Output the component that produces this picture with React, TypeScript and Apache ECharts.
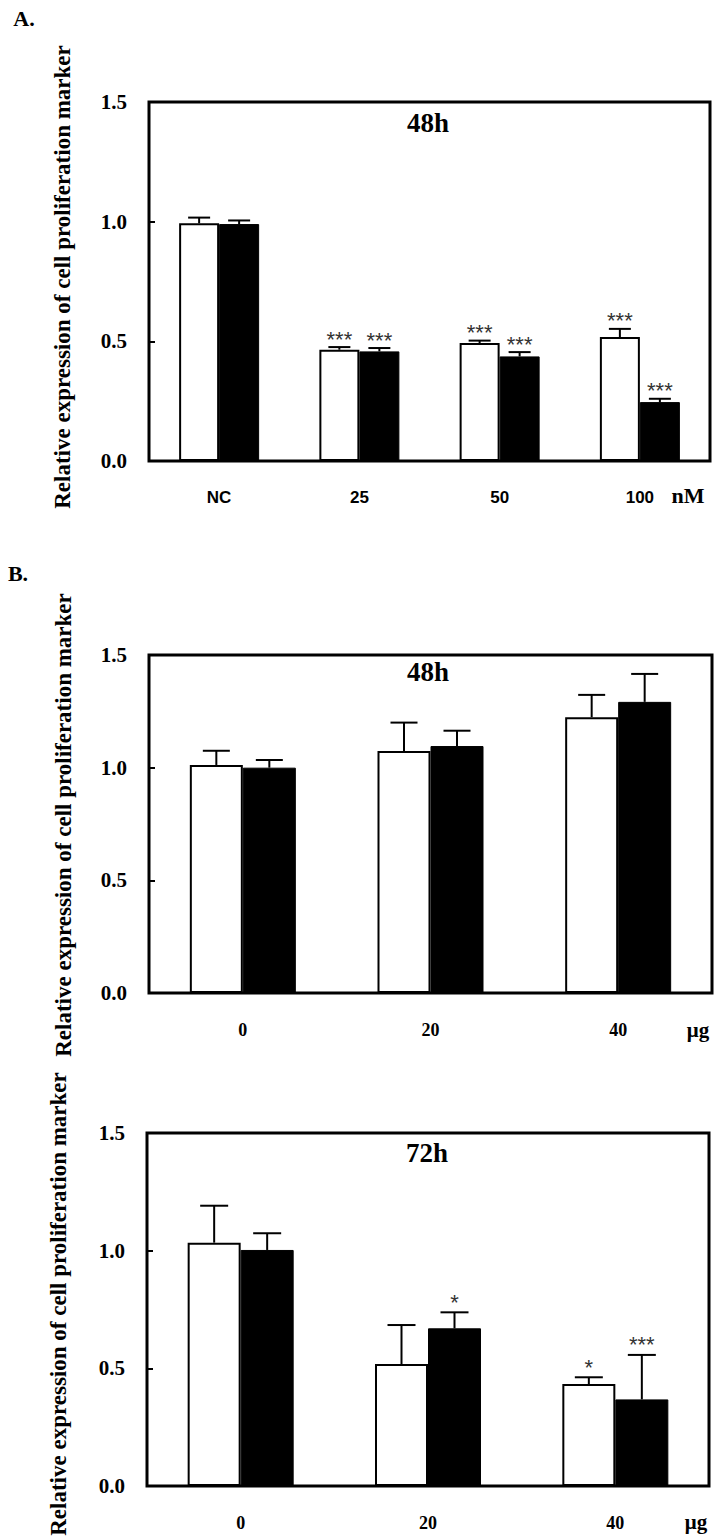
import React, { useEffect, useRef } from "react";
import * as echarts from "echarts";

// Panel A (48h, nM)
const catsA = ["NC", "25", "50", "100"];
const aWhite = [0.993, 0.465, 0.493, 0.518];
const aWhiteErr = [0.024, 0.011, 0.01, 0.034];
const aBlack = [0.99, 0.458, 0.437, 0.246];
const aBlackErr = [0.015, 0.014, 0.018, 0.014];
const aWhiteStars = ["", "***", "***", "***"];
const aBlackStars = ["", "***", "***", "***"];

// Panel B (µg)
const catsB = ["0", "20", "40"];
const b48White = [1.012, 1.074, 1.224];
const b48WhiteErr = [0.063, 0.126, 0.099];
const b48Black = [1.0, 1.096, 1.292];
const b48BlackErr = [0.034, 0.068, 0.124];
const b48WhiteStars = ["", "", ""];
const b48BlackStars = ["", "", ""];
const b72White = [1.034, 0.518, 0.433];
const b72WhiteErr = [0.157, 0.166, 0.029];
const b72Black = [1.003, 0.67, 0.368];
const b72BlackErr = [0.071, 0.068, 0.189];
const b72WhiteStars = ["", "", "*"];
const b72BlackStars = ["", "*", "***"];

const yMin = 0;
const yMax = 1.5;
const yStep = 0.5;
const yTitle = "Relative expression of cell proliferation marker";

const SERIF = "'Liberation Serif', 'Times New Roman', serif";
const NARROW = "'Liberation Sans Narrow', 'Arial Narrow', 'Liberation Sans', sans-serif";
const SANS = "'Liberation Sans', Arial, sans-serif";

function errRender(sign: number, bw: number, capW: number, stars: string[], starGap: number) {
  return (params: any, api: any) => {
    const cat = api.value(0);
    const v = api.value(1);
    const top = api.value(2);
    const b = api.coord([cat, v]);
    const t = api.coord([cat, top]);
    const x = b[0] + (sign * bw) / 2;
    const children: any[] = [
      { type: "line", shape: { x1: x, y1: b[1], x2: x, y2: t[1] }, style: { stroke: "#000", lineWidth: 2 } },
      { type: "line", shape: { x1: x - capW / 2, y1: t[1], x2: x + capW / 2, y2: t[1] }, style: { stroke: "#000", lineWidth: 2 } },
    ];
    const s = stars[params.dataIndex];
    if (s) {
      children.push({
        type: "text",
        style: {
          text: s,
          x: x,
          y: t[1] - starGap,
          textAlign: "center",
          textVerticalAlign: "middle",
          fontSize: 22,
          fontFamily: SANS,
          fill: "#333",
        },
      });
    }
    return { type: "group", children };
  };
}

function panelSeries(
  g: number,
  white: number[],
  whiteErr: number[],
  black: number[],
  blackErr: number[],
  whiteStars: string[],
  blackStars: string[],
  bw: number,
  capW: number,
  starGap: number
) {
  return [
    {
      type: "bar",
      xAxisIndex: g,
      yAxisIndex: g,
      data: white,
      barWidth: bw,
      barGap: "0%",
      itemStyle: { color: "#fff", borderColor: "#000", borderWidth: 2 },
    },
    {
      type: "bar",
      xAxisIndex: g,
      yAxisIndex: g,
      data: black,
      barWidth: bw,
      barGap: "0%",
      itemStyle: { color: "#000", borderColor: "#000", borderWidth: 1 },
    },
    {
      type: "custom",
      xAxisIndex: g,
      yAxisIndex: g,
      data: white.map((v, i) => [i, v, v + whiteErr[i]]),
      encode: { x: 0, y: [1, 2] },
      renderItem: errRender(-1, bw, capW, whiteStars, starGap),
      z: 5,
    },
    {
      type: "custom",
      xAxisIndex: g,
      yAxisIndex: g,
      data: black.map((v, i) => [i, v, v + blackErr[i]]),
      encode: { x: 0, y: [1, 2] },
      renderItem: errRender(1, bw, capW, blackStars, starGap),
      z: 5,
    },
  ];
}

function yAxisFor(g: number) {
  return {
    type: "value",
    gridIndex: g,
    min: yMin,
    max: yMax,
    interval: yStep,
    splitLine: { show: false },
    axisLine: { show: false },
    axisTick: { show: true, inside: true, length: 6, lineStyle: { color: "#000", width: 2 } },
    axisLabel: {
      margin: 22,
      color: "#000",
      fontFamily: SERIF,
      fontWeight: "bold",
      fontSize: 21,
      formatter: (v: number) => v.toFixed(1),
    },
  };
}

function xAxisFor(g: number, cats: string[], family: string, size: number) {
  return {
    type: "category",
    gridIndex: g,
    data: cats,
    axisLine: { show: false },
    axisTick: { show: false },
    axisLabel: { margin: 28, color: "#000", fontFamily: family, fontWeight: "bold", fontSize: size },
  };
}

function txt(text: string, x: number, y: number, size: number, family: string, extra: any = {}) {
  return {
    type: "text",
    x,
    y,
    ...extra,
    style: {
      text,
      fontSize: size,
      fontFamily: family,
      fontWeight: "bold",
      fill: "#000",
      textAlign: "center",
      textVerticalAlign: "middle",
    },
  };
}

export default function App() {
  const ref = useRef<HTMLDivElement>(null);
  useEffect(() => {
    if (!ref.current) return;
    const chart = echarts.init(ref.current, null, { renderer: "svg" });
    const gridStyle = { show: true, borderColor: "#000", borderWidth: 3, backgroundColor: "transparent" };
    chart.setOption({
      animation: false,
      backgroundColor: "#fff",
      grid: [
        { left: 149, top: 102, width: 561, height: 359, ...gridStyle },
        { left: 149, top: 655, width: 563, height: 338, ...gridStyle },
        { left: 147, top: 1133, width: 562, height: 353, ...gridStyle },
      ],
      xAxis: [
        xAxisFor(0, catsA, NARROW, 17),
        xAxisFor(1, catsB, SERIF, 18),
        xAxisFor(2, catsB, SERIF, 18),
      ],
      yAxis: [yAxisFor(0), yAxisFor(1), yAxisFor(2)],
      series: [
        ...panelSeries(0, aWhite, aWhiteErr, aBlack, aBlackErr, aWhiteStars, aBlackStars, 40, 22, 8),
        ...panelSeries(1, b48White, b48WhiteErr, b48Black, b48BlackErr, b48WhiteStars, b48BlackStars, 53, 27, 10),
        ...panelSeries(2, b72White, b72WhiteErr, b72Black, b72BlackErr, b72WhiteStars, b72BlackStars, 53, 28, 10),
      ],
      graphic: [
        txt("A.", 24, 18, 22, SERIF),
        txt("B.", 18, 573, 22, SERIF),
        txt("48h", 428, 123, 27, SERIF),
        txt("48h", 428, 672, 27, SERIF),
        txt("72h", 427, 1153, 27, SERIF),
        txt("nM", 688, 495, 22, SERIF),
        txt("\u03bcg", 698, 1030, 21, SERIF),
        txt("\u03bcg", 696, 1522, 21, SERIF),
        txt(yTitle, 62, 277, 23, SERIF, { rotation: Math.PI / 2 }),
        txt(yTitle, 63, 825, 23, SERIF, { rotation: Math.PI / 2 }),
        txt(yTitle, 58, 1304, 23, SERIF, { rotation: Math.PI / 2 }),
      ],
    });
    return () => chart.dispose();
  }, []);
  return <div ref={ref} style={{ position: "absolute", left: 0, top: 0, width: 719, height: 1540 }} />;
}
